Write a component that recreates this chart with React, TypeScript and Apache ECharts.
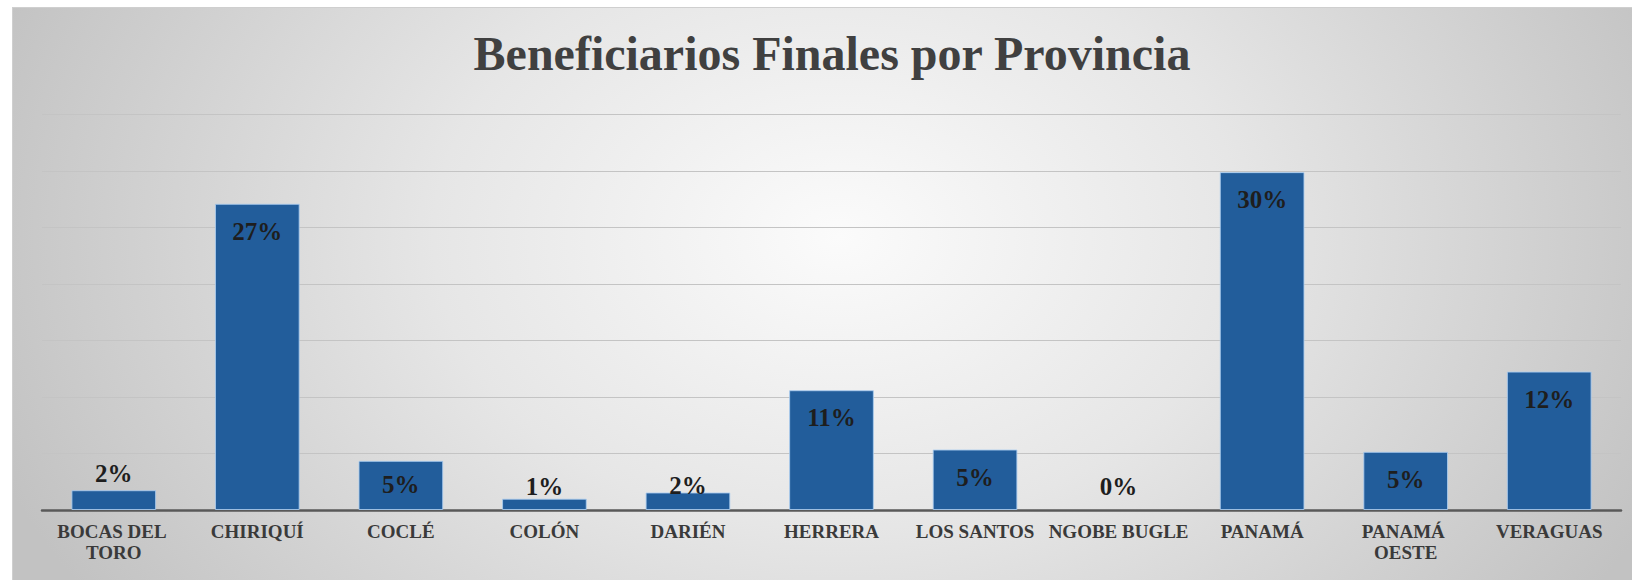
import React, { useEffect, useRef } from "react";
import * as echarts from "echarts";

const categories = [
  "BOCAS DEL TORO",
  "CHIRIQUÍ",
  "COCLÉ",
  "COLÓN",
  "DARIÉN",
  "HERRERA",
  "LOS SANTOS",
  "NGOBE BUGLE",
  "PANAMÁ",
  "PANAMÁ OESTE",
  "VERAGUAS",
];

const values = [1.75, 27.1, 4.35, 1.0, 1.55, 10.6, 5.35, 0, 29.9, 5.15, 12.25];

const valueLabels = ["2%", "27%", "5%", "1%", "2%", "11%", "5%", "0%", "30%", "5%", "12%"];

const yTicks = { min: 0, max: 35, interval: 5 };

// label placement style per bar (position, distance)
const labelPlacement: [string, number][] = [
  ["top", 4],
  ["insideTop", 15],
  ["insideTop", 11],
  ["top", 0],
  ["top", -6],
  ["insideTop", 15],
  ["insideTop", 15],
  ["top", 11],
  ["insideTop", 15],
  ["insideTop", 15],
  ["insideTop", 15],
];

const SERIF = "'Liberation Serif', 'Times New Roman', serif";

export default function App() {
  const ref = useRef<HTMLDivElement>(null);

  useEffect(() => {
    if (!ref.current) return;
    const chart = echarts.init(ref.current, undefined, { renderer: "svg" });
    chart.setOption({
      animation: false,
      backgroundColor: "transparent",
      title: {
        text: "Beneficiarios Finales por Provincia",
        left: 815,
        top: 17,
        textAlign: "center",
        textStyle: {
          fontFamily: SERIF,
          fontWeight: "bold",
          fontSize: 48,
          color: "#404040",
        },
      },
      grid: { left: 30, right: 11, top: 107.5, bottom: 70, containLabel: false },
      xAxis: {
        type: "category",
        data: categories,
        axisLine: { show: true, lineStyle: { color: "#595959", width: 2.5 } },
        axisTick: { show: false },
        axisLabel: {
          interval: 0,
          margin: 11,
          fontFamily: SERIF,
          fontWeight: "bold",
          fontSize: 19,
          lineHeight: 21,
          color: "#3a3a3a",
          width: 142,
          overflow: "break",
        },
      },
      yAxis: {
        type: "value",
        min: yTicks.min,
        max: yTicks.max,
        interval: yTicks.interval,
        axisLabel: { show: false },
        axisLine: { show: false },
        axisTick: { show: false },
        splitLine: { lineStyle: { color: "#c4c4c4", width: 1 } },
      },
      series: [
        {
          type: "bar",
          barWidth: "59%",
          data: values.map((v, i) => ({
            value: v,
            itemStyle: v === 0 ? { borderWidth: 0, borderColor: "transparent" } : undefined,
            label: {
              show: true,
              position: labelPlacement[i][0],
              distance: labelPlacement[i][1],
              formatter: () => valueLabels[i],
            },
          })),
          itemStyle: {
            color: "#225d9b",
            borderColor: "rgba(170,205,240,0.85)",
            borderWidth: 1,
          },
          label: {
            fontFamily: SERIF,
            fontWeight: "bold",
            fontSize: 25,
            color: "#1e1e1e",
          },
        },
      ],
    });
    return () => chart.dispose();
  }, []);

  return (
    <div
      style={{
        position: "absolute",
        left: 12,
        top: 7,
        width: 1620,
        height: 573,
        boxSizing: "border-box",
        borderTop: "1px solid #cfcfcf",
        borderLeft: "1px solid #cfcfcf",
        background:
          "radial-gradient(ellipse 900px 650px at 51% 40%, #fbfbfb 0%, #e6e6e6 45%, #c2c2c2 100%)",
      }}
    >
      <div ref={ref} style={{ position: "absolute", left: -1, top: -1, width: 1620, height: 573 }} />
    </div>
  );
}
